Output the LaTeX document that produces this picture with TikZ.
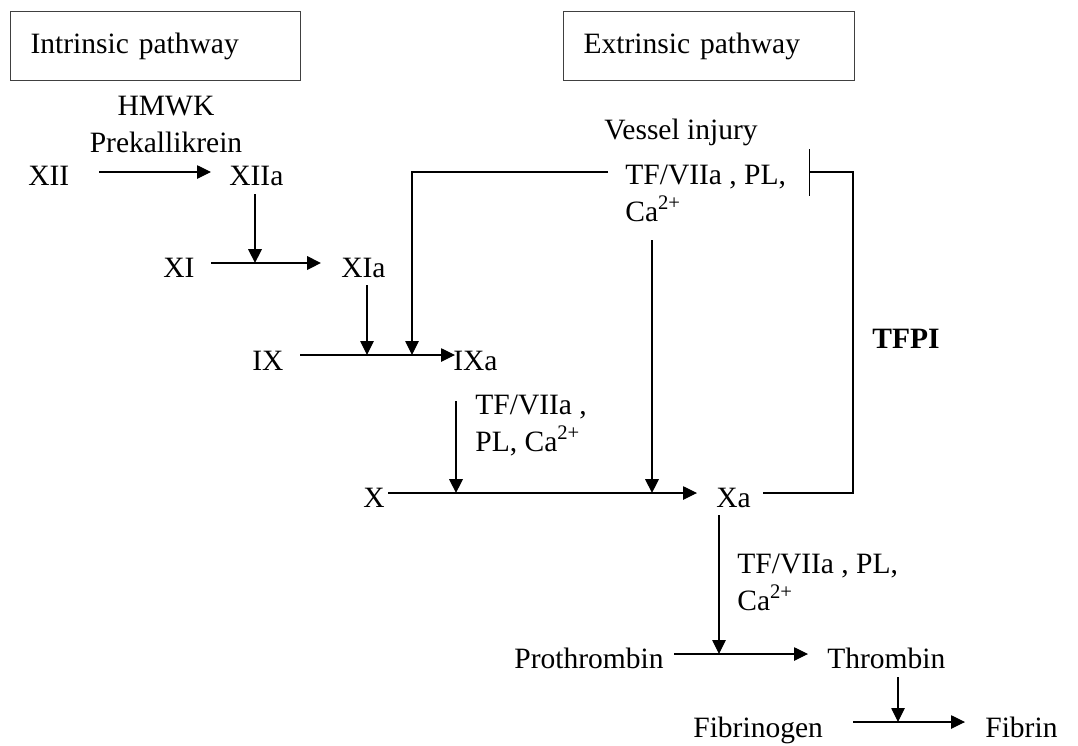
\documentclass[tikz,border=0pt]{standalone}
\usepackage{fontspec}
\setmainfont{Liberation Serif}
\usetikzlibrary{arrows.meta}
\begin{document}
\begin{tikzpicture}[x=0.02cm,y=-0.02cm,
  txt/.style={inner sep=0pt, font=\fontsize{16.8}{20.5}\selectfont},
  lbl/.style={txt, anchor=base west},
  ctr/.style={txt, anchor=base},
  ml/.style={lbl, align=left},
  conn/.style={line width=0.6pt},
  heavy/.style={line width=1.3pt},
  arr/.style={-{Triangle[length=7.9pt,width=7.6pt]}},
  inh/.style={-{Bar[width=0.94cm]}},
  pathbox/.style={draw=black!75, line width=0.7pt, anchor=north west,
    minimum height=1.38cm, inner xsep=0.4cm, align=left,
    font=\fontsize{16.8}{20.5}\selectfont}
]
\useasboundingbox (0,0) rectangle (1078,745);

% header boxes
\node[pathbox, minimum width=5.8cm, text width=5cm] (intr) at (10,11) {Intrinsic pathway};
\node[pathbox, minimum width=5.82cm, text width=5.02cm] (extr) at (563,11) {Extrinsic pathway};

% text nodes (multi-line nodes are anchored at the baseline of their last line)
\node[ctr] (hmwk) at (166,115) {HMWK};
\node[ctr] (prek) at (166,152) {Prekallikrein};
\node[lbl] (xii) at (28,185) {XII};
\node[lbl] (xiia) at (229,185) {XIIa};
\node[lbl] (xi) at (163,277) {XI};
\node[lbl] (xia) at (341,277) {XIa};
\node[lbl] (ix) at (252,370) {IX};
\node[lbl] (ixa) at (453,370) {IXa};
\node[lbl] (vessel) at (604,139) {Vessel injury};
\node[ml] (tf1) at (625,221) {TF/VIIa , PL,\\Ca\textsuperscript{2+}};
\node[lbl, font=\fontsize{16.8}{20.5}\selectfont\bfseries] (tfpi) at (872,348) {TFPI};
\node[ml] (tf2) at (475,451) {TF/VIIa ,\\PL, Ca\textsuperscript{2+}};
\node[lbl] (x) at (363,507) {X};
\node[lbl] (xa) at (716,507) {Xa};
\node[ml] (tf3) at (737,610) {TF/VIIa , PL,\\Ca\textsuperscript{2+}};
\node[lbl] (prot) at (514,668) {Prothrombin};
\node[lbl] (thr) at (827,668) {Thrombin};
\node[lbl] (fbg) at (693,737) {Fibrinogen};
\node[lbl] (fbn) at (985,737) {Fibrin};

% connector end points and junctions
\coordinate (a1s) at (99,172);   \coordinate (a1e) at (211,172);
\coordinate (a2s) at (255,194);  \coordinate (j1) at (255,263);
\coordinate (a3s) at (211,263);  \coordinate (a3e) at (321,263);
\coordinate (a4s) at (367,285);  \coordinate (j2) at (367,355);
\coordinate (a5s) at (300,355);  \coordinate (a5e) at (455,355);
\coordinate (fb1) at (608,172);  \coordinate (fb2) at (412,172);
\coordinate (j3) at (412,355);
\coordinate (inh1) at (763,493); \coordinate (inh2) at (853,493);
\coordinate (inh3) at (853,172); \coordinate (inh4) at (809,172);
\coordinate (a7s) at (652,240);  \coordinate (j4) at (652,493);
\coordinate (a8s) at (456,401);  \coordinate (j5) at (456,493);
\coordinate (a9s) at (388,493);  \coordinate (a9e) at (697,493);
\coordinate (a10s) at (719,515); \coordinate (j6) at (719,654);
\coordinate (a11s) at (674,654); \coordinate (a11e) at (808,654);
\coordinate (a12s) at (898,677); \coordinate (j7) at (898,722);
\coordinate (a13s) at (853,722); \coordinate (a13e) at (965,722);

% connectors
\draw[conn, arr] (a1s) -- (a1e);
\draw[heavy, arr] (a2s) -- (j1);
\draw[heavy, arr] (a3s) -- (a3e);
\draw[conn, arr] (a4s) -- (j2);
\draw[conn, arr] (a5s) -- (a5e);
\draw[conn, arr] (fb1) -- (fb2) -- (j3);
\draw[conn, inh] (inh1) -- (inh2) -- (inh3) -- (inh4);
\draw[heavy, arr] (a7s) -- (j4);
\draw[heavy, arr] (a8s) -- (j5);
\draw[conn, arr] (a9s) -- (a9e);
\draw[conn, arr] (a10s) -- (j6);
\draw[conn, arr] (a11s) -- (a11e);
\draw[conn, arr] (a12s) -- (j7);
\draw[conn, arr] (a13s) -- (a13e);
\end{tikzpicture}
\end{document}
